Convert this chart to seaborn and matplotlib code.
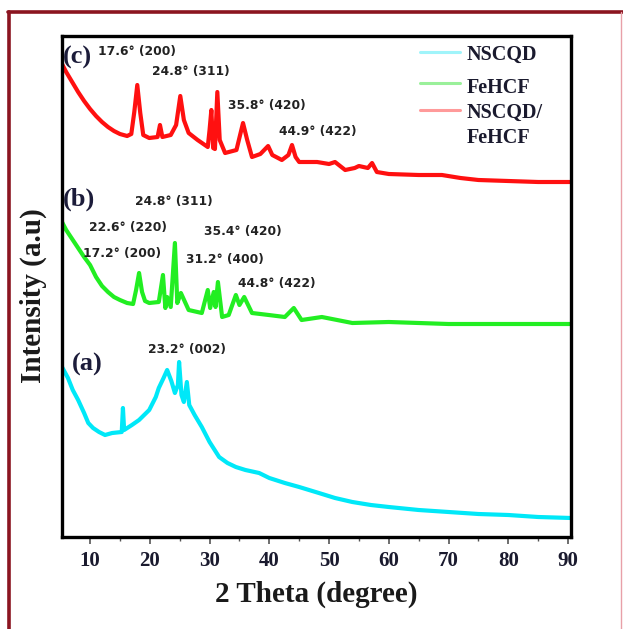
import numpy as np
import pandas as pd
import matplotlib
matplotlib.use("Agg")
import matplotlib.pyplot as plt
from matplotlib.lines import Line2D
import seaborn as sns

# ---------------- data ----------------
theta_c = [5.3, 6.0, 7.0, 8.0, 9.0, 10.0, 11.0, 12.0, 13.0, 14.0, 15.0, 16.2, 16.9, 17.4, 17.9,
           18.4, 18.9, 19.9, 21.3, 21.7, 22.1, 23.5, 24.4, 25.1, 25.7, 26.5, 28.0, 29.7, 30.0,
           30.3, 30.6, 30.9, 31.3, 31.7, 32.6, 34.5, 35.6, 36.3, 37.1, 38.5, 39.8, 40.5, 42.1,
           43.2, 43.8, 44.4, 45.0, 48.0, 50.0, 51.0, 52.7, 54.3, 55.0, 56.5, 57.2, 58.0, 60.0,
           65.0, 68.9, 72.0, 75.0, 80.0, 85.0, 90.5]
int_c = [536, 528, 518, 508, 499, 491, 484, 478, 473, 469, 466, 464, 466, 488, 515,
         487, 465, 462, 463, 475, 463, 465, 475, 504, 480, 467, 460, 453, 470,
         490, 452, 451, 508, 460, 447, 450, 477, 460, 443, 446, 454, 445, 440,
         445, 455, 443, 438, 438, 436, 438, 430, 432, 434, 432, 437, 428, 426,
         425, 425, 422, 420, 419, 418, 418]

theta_b = [5.3, 6.0, 7.0, 8.0, 9.0, 10.0, 11.0, 12.0, 13.0, 14.0, 15.0, 16.2, 17.2, 17.7,
           18.2, 18.7, 19.2, 19.9, 21.5, 22.2, 22.6, 22.9, 23.5, 24.2, 24.6, 25.2, 26.5, 28.7,
           29.7, 30.1, 30.7, 31.0, 31.4, 32.1, 33.2, 34.4, 35.0, 35.8, 37.1, 39.9, 42.6, 44.1,
           45.4, 48.8, 53.9, 60.0, 70.0, 80.0, 90.5]
int_b = [378, 370, 361, 352, 343, 335, 323, 314, 308, 303, 300, 297, 296, 310,
         327, 308, 299, 297, 298, 325, 292, 303, 293, 357, 297, 307, 290, 287,
         310, 292, 308, 293, 318, 283, 285, 305, 295, 303, 287, 285, 283, 292,
         280, 283, 277, 278, 276, 276, 276]

theta_a = [5.3, 6.3, 7.1, 8.0, 9.0, 9.7, 10.5, 11.5, 12.5, 13.7, 15.3, 15.5, 15.7, 17.0,
           18.2, 19.9, 21.0, 21.5, 22.3, 22.9, 23.6, 24.2, 24.7, 24.9, 25.3, 25.7, 26.2, 26.6,
           27.5, 28.7, 30.0, 31.6, 33.0, 34.4, 36.0, 38.3, 40.0, 42.6, 45.0, 48.3, 51.0, 53.9,
           57.0, 60.0, 65.0, 70.0, 75.0, 80.0, 85.0, 90.5]
int_a = [233, 222, 210, 200, 187, 177, 172, 168, 165, 167, 168, 192, 170, 175,
         180, 190, 203, 212, 222, 230, 219, 207, 215, 238, 205, 198, 218, 195,
         185, 173, 158, 143, 137, 133, 130, 127, 122, 117, 113, 107, 102, 98,
         95, 93, 90, 88, 86, 85, 83, 82]

samples = ["NSCQD", "FeHCF", "NSCQD/\nFeHCF"]
colors = ["#00E8F8", "#22EE22", "#FF1010"]
legend_colors = ["#A0F4FA", "#9AF09A", "#FF9A9A"]
x_ticks = [10, 20, 30, 40, 50, 60, 70, 80, 90]

df = pd.concat([
    pd.DataFrame({"theta": theta_a, "intensity": int_a, "sample": samples[0]}),
    pd.DataFrame({"theta": theta_b, "intensity": int_b, "sample": samples[1]}),
    pd.DataFrame({"theta": theta_c, "intensity": int_c, "sample": samples[2]}),
])

# ---------------- figure ----------------
sns.set_theme(style="white")
plt.rcParams["font.family"] = ["DejaVu Sans"]
serif = ["Liberation Serif", "DejaVu Serif"]

fig = plt.figure(figsize=(6.23, 6.29), dpi=100)
AX_L, AX_R, AX_T, AX_B = 62, 571, 36, 537
ax = fig.add_axes([AX_L / 623, 1 - AX_B / 629, (AX_R - AX_L) / 623, (AX_B - AX_T) / 629])

sns.lineplot(data=df, x="theta", y="intensity", hue="sample", palette=dict(zip(samples, colors)),
             estimator=None, sort=False, lw=3.0, ax=ax, legend=False)

ax.set_xlim(5.3, 90.5)
ax.set_ylim(63, 564)
ax.set_yticks([])
ax.set_xticks(x_ticks)
ax.set_xticks(np.arange(15, 90, 10), minor=True)
ax.tick_params(axis="x", which="major", direction="out", length=5, width=1.2, color="#555555",
               labelsize=15, pad=5, bottom=True)
ax.tick_params(axis="x", which="minor", direction="out", length=3, width=1.0, color="#555555", bottom=True)
for lab in ax.get_xticklabels():
    lab.set_fontfamily(serif)
    lab.set_fontweight("bold")
    lab.set_color("#1a1a2e")
for sp in ax.spines.values():
    sp.set_linewidth(2.4)
    sp.set_color("black")

ax.set_xlabel("2 Theta (degree)", fontsize=21, fontweight="bold", family=serif, color="#1a1a1a", labelpad=7)
ax.set_ylabel("Intensity (a.u)", fontsize=21, fontweight="bold", family=serif, color="#1a1a1a")
ax.yaxis.set_label_coords((47 - AX_L) / (AX_R - AX_L), (AX_B - 296) / (AX_B - AX_T))


def pxa(px, py):
    return (px - AX_L) / (AX_R - AX_L), (AX_B - py) / (AX_B - AX_T)


ann = [
    ("17.6° (200)", 98, 52), ("24.8° (311)", 152, 72), ("35.8° (420)", 228, 106), ("44.9° (422)", 279, 132),
    ("24.8° (311)", 135, 202), ("22.6° (220)", 89, 228), ("35.4° (420)", 204, 232),
    ("17.2° (200)", 83, 254), ("31.2° (400)", 186, 259), ("44.8° (422)", 238, 283),
    ("23.2° (002)", 148, 350),
]
for t, px, py in ann:
    ax.text(*pxa(px, py), t, transform=ax.transAxes, fontsize=8.8, fontweight="bold",
            color="#222222", ha="left", va="center")

for t, px, py in [("(c)", 63, 57), ("(b)", 63, 199), ("(a)", 72, 364)]:
    ax.text(*pxa(px, py), t, transform=ax.transAxes, fontsize=19, fontweight="bold", family=serif,
            color="#1c1c3a", ha="left", va="center")

# legend drawn manually to match the uneven spacing of the reference
for lab, c, ly, ty, va in zip(samples, legend_colors, [52, 83, 110], [55, 88, 103], ["center", "center", "top"]):
    x0, y0 = pxa(420, ly)
    x1, _ = pxa(460, ly)
    ax.add_line(Line2D([x0, x1], [y0, y0], color=c, lw=2.2, transform=ax.transAxes))
    ax.text(*pxa(467, ty), lab, transform=ax.transAxes, fontsize=14.5, fontweight="bold",
            family=serif, color="#1a1a2e", ha="left", va=va, linespacing=1.35)

# figure border (dark red top/left, light right)
fig.add_artist(Line2D([8 / 623, 1], [1 - 12 / 629, 1 - 12 / 629], color="#8B1520", lw=2.6,
                      transform=fig.transFigure))
fig.add_artist(Line2D([9 / 623, 9 / 623], [0, 1 - 12 / 629], color="#8B1520", lw=2.6,
                      transform=fig.transFigure))
fig.add_artist(Line2D([621 / 623, 621 / 623], [0, 1 - 12 / 629], color="#E8A0A8", lw=1.0,
                      transform=fig.transFigure))

fig.savefig("out.png", dpi=100)
